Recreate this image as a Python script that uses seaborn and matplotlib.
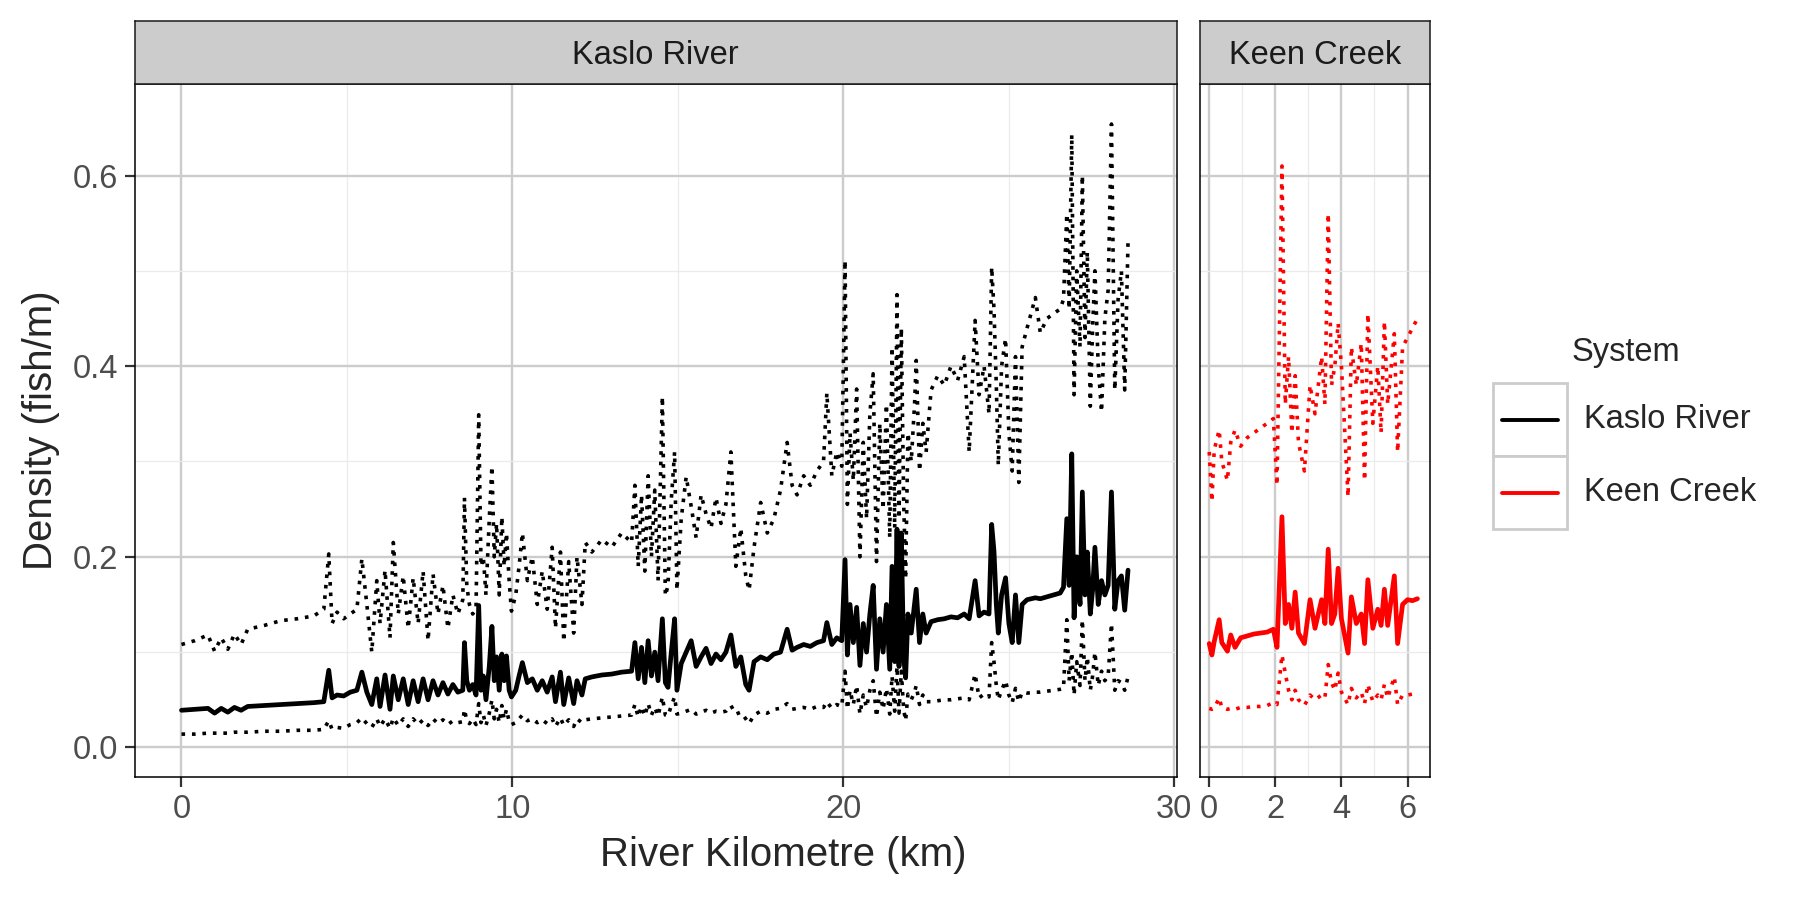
import numpy as np
import pandas as pd
import matplotlib
matplotlib.use("Agg")
import matplotlib.pyplot as plt
import seaborn as sns
from matplotlib.patches import Rectangle
from matplotlib.lines import Line2D
from matplotlib.ticker import MultipleLocator

sns.set_theme(style="whitegrid")
plt.rcParams['font.family'] = ['Liberation Sans', 'DejaVu Sans']

# ---- Kaslo River: river km, estimate, lower and upper bound (fish/m) ----
kaslo_km = [
    0.0, 0.4, 0.8, 1.0, 1.2, 1.4, 1.6, 1.8, 2.0, 2.5, 3.0, 3.5, 4.0, 4.3,
    4.45, 4.55, 4.7, 4.9, 5.1, 5.3, 5.45, 5.6, 5.75, 5.9, 6.0, 6.15, 6.3, 6.4,
    6.55, 6.7, 6.85, 7.0, 7.15, 7.3, 7.45, 7.6, 7.75, 7.9, 8.05, 8.2, 8.35, 8.5,
    8.55, 8.62, 8.7, 8.8, 8.9, 8.98, 9.05, 9.12, 9.2, 9.3, 9.38, 9.45, 9.52,
    9.6, 9.68, 9.75, 9.82, 9.9, 9.97,
    10.1, 10.2, 10.3, 10.45, 10.6, 10.75, 10.9, 11.05, 11.2, 11.3, 11.45, 11.55,
    11.7, 11.85, 11.95, 12.1, 12.2,
    12.4, 12.7, 13.0, 13.3, 13.6,
    13.7, 13.8, 13.9, 14.0, 14.1, 14.2, 14.3, 14.4, 14.53, 14.62, 14.7, 14.8, 14.9, 14.97,
    15.1, 15.25, 15.4, 15.55, 15.7, 15.85, 16.0, 16.15, 16.3, 16.45, 16.6, 16.75,
    16.9, 17.05, 17.15,
    17.3, 17.5, 17.7, 17.9, 18.1, 18.3, 18.45, 18.6, 18.8, 19.0, 19.2, 19.4, 19.5,
    19.65, 19.8, 19.95,
    20.05, 20.12, 20.2, 20.3, 20.4, 20.5, 20.6, 20.7, 20.8, 20.9, 21.0, 21.1, 21.2,
    21.3, 21.4, 21.47, 21.55, 21.62, 21.68, 21.75, 21.82, 21.88, 21.95, 22.05,
    22.15, 22.2, 22.3, 22.4, 22.5,
    22.65, 22.85, 23.05, 23.25, 23.45, 23.65, 23.8, 23.98, 24.1, 24.25, 24.4,
    24.48, 24.55, 24.62, 24.68, 24.78, 24.9, 25.0, 25.1, 25.2, 25.3, 25.4,
    25.55, 25.8, 25.95, 26.15, 26.35, 26.55,
    26.65, 26.75, 26.82, 26.9, 26.97, 27.05, 27.15, 27.22, 27.3, 27.37, 27.46,
    27.53, 27.6, 27.7, 27.8, 27.9, 28.0, 28.1, 28.2, 28.3, 28.4, 28.5, 28.6,
]
kaslo_est = [
    0.039, 0.040, 0.041, 0.036, 0.041, 0.037, 0.042, 0.039, 0.043, 0.044, 0.045, 0.046, 0.047, 0.048,
    0.081, 0.052, 0.055, 0.054, 0.058, 0.060, 0.079, 0.058, 0.045, 0.072, 0.043, 0.076, 0.040, 0.075,
    0.050, 0.072, 0.045, 0.070, 0.048, 0.072, 0.050, 0.070, 0.055, 0.068, 0.056, 0.066, 0.058, 0.060,
    0.110, 0.070, 0.060, 0.066, 0.055, 0.149, 0.060, 0.075, 0.050, 0.085, 0.127, 0.070, 0.095,
    0.060, 0.098, 0.070, 0.096, 0.060, 0.053,
    0.060, 0.075, 0.089, 0.068, 0.072, 0.060, 0.070, 0.058, 0.074, 0.048, 0.079, 0.045,
    0.073, 0.046, 0.070, 0.055, 0.072,
    0.074, 0.076, 0.077, 0.079, 0.080,
    0.110, 0.072, 0.105, 0.068, 0.112, 0.075, 0.100, 0.070, 0.135, 0.068, 0.063, 0.100, 0.135, 0.060,
    0.088, 0.100, 0.112, 0.085, 0.095, 0.104, 0.088, 0.098, 0.092, 0.100, 0.118, 0.085,
    0.095, 0.066, 0.060,
    0.090, 0.095, 0.092, 0.098, 0.100, 0.124, 0.102, 0.105, 0.108, 0.106, 0.110, 0.112, 0.131,
    0.108, 0.115, 0.112,
    0.197, 0.097, 0.150, 0.110, 0.147, 0.086, 0.130, 0.100, 0.140, 0.170, 0.082, 0.135, 0.100,
    0.150, 0.082, 0.190, 0.090, 0.229, 0.085, 0.225, 0.095, 0.073, 0.140, 0.120,
    0.150, 0.166, 0.110, 0.140, 0.120,
    0.132, 0.134, 0.135, 0.137, 0.136, 0.140, 0.135, 0.175, 0.138, 0.142, 0.140,
    0.234, 0.206, 0.150, 0.120, 0.160, 0.178, 0.130, 0.110, 0.160, 0.110, 0.150,
    0.155, 0.157, 0.156, 0.158, 0.160, 0.162,
    0.168, 0.240, 0.170, 0.308, 0.136, 0.200, 0.150, 0.268, 0.160, 0.205, 0.140,
    0.165, 0.210, 0.150, 0.175, 0.160, 0.170, 0.268, 0.145, 0.175, 0.180, 0.144, 0.186,
]
kaslo_lwr = [
    0.014, 0.014, 0.015, 0.015, 0.015, 0.015, 0.016, 0.016, 0.016, 0.017, 0.017, 0.018, 0.018, 0.019,
    0.028, 0.019, 0.021, 0.020, 0.024, 0.026, 0.031, 0.025, 0.021, 0.030, 0.022, 0.030, 0.020, 0.031,
    0.023, 0.030, 0.022, 0.030, 0.024, 0.029, 0.023, 0.030, 0.025, 0.029, 0.024, 0.028, 0.026, 0.027,
    0.040, 0.028, 0.025, 0.030, 0.024, 0.046, 0.026, 0.034, 0.023, 0.036, 0.050, 0.030, 0.040,
    0.026, 0.044, 0.030, 0.040, 0.027, 0.024,
    0.026, 0.030, 0.034, 0.028, 0.030, 0.026, 0.029, 0.025, 0.030, 0.022, 0.031, 0.023,
    0.029, 0.022, 0.030, 0.026, 0.029,
    0.030, 0.031, 0.032, 0.033, 0.034,
    0.045, 0.032, 0.043, 0.033, 0.046, 0.034, 0.042, 0.033, 0.053, 0.034, 0.033, 0.044, 0.053, 0.035,
    0.036, 0.038, 0.040, 0.035, 0.037, 0.039, 0.036, 0.038, 0.037, 0.038, 0.044, 0.035,
    0.037, 0.030, 0.025,
    0.034, 0.038, 0.036, 0.040, 0.041, 0.046, 0.040, 0.041, 0.042, 0.040, 0.043, 0.042, 0.048,
    0.041, 0.045, 0.043,
    0.080, 0.040, 0.060, 0.045, 0.065, 0.035, 0.055, 0.042, 0.060, 0.070, 0.032, 0.058, 0.040,
    0.062, 0.035, 0.075, 0.038, 0.085, 0.036, 0.080, 0.040, 0.028, 0.056, 0.050,
    0.058, 0.065, 0.045, 0.055, 0.048,
    0.048, 0.049, 0.050, 0.050, 0.051, 0.052, 0.050, 0.077, 0.052, 0.056, 0.053,
    0.110, 0.090, 0.065, 0.050, 0.060, 0.070, 0.055, 0.047, 0.062, 0.048, 0.058,
    0.057, 0.058, 0.058, 0.059, 0.060, 0.061,
    0.062, 0.134, 0.070, 0.100, 0.055, 0.090, 0.065, 0.134, 0.070, 0.095, 0.060,
    0.075, 0.100, 0.065, 0.080, 0.070, 0.075, 0.130, 0.060, 0.070, 0.068, 0.060, 0.074,
]
kaslo_upr = [
    0.108, 0.112, 0.118, 0.101, 0.115, 0.103, 0.119, 0.108, 0.124, 0.128, 0.133, 0.135, 0.138, 0.145,
    0.203, 0.130, 0.142, 0.135, 0.140, 0.145, 0.198, 0.150, 0.100, 0.175, 0.130, 0.186, 0.115, 0.215,
    0.140, 0.180, 0.125, 0.178, 0.130, 0.185, 0.112, 0.182, 0.140, 0.170, 0.125, 0.160, 0.140, 0.155,
    0.262, 0.170, 0.150, 0.140, 0.145, 0.349, 0.190, 0.200, 0.160, 0.240, 0.295, 0.200, 0.235,
    0.160, 0.242, 0.190, 0.225, 0.175, 0.143,
    0.160, 0.190, 0.225, 0.175, 0.200, 0.150, 0.185, 0.145, 0.210, 0.125, 0.205, 0.111,
    0.195, 0.120, 0.200, 0.150, 0.215,
    0.205, 0.218, 0.210, 0.225, 0.215,
    0.275, 0.190, 0.265, 0.185, 0.285, 0.200, 0.270, 0.175, 0.368, 0.159, 0.170, 0.260, 0.310, 0.165,
    0.240, 0.284, 0.253, 0.220, 0.265, 0.245, 0.230, 0.262, 0.235, 0.255, 0.310, 0.190,
    0.230, 0.180, 0.165,
    0.210, 0.257, 0.225, 0.240, 0.270, 0.320, 0.275, 0.265, 0.285, 0.275, 0.290, 0.300, 0.372,
    0.285, 0.310, 0.295,
    0.511, 0.255, 0.330, 0.280, 0.376, 0.200, 0.320, 0.240, 0.350, 0.392, 0.195, 0.340, 0.250,
    0.360, 0.220, 0.420, 0.230, 0.475, 0.240, 0.440, 0.260, 0.177, 0.330, 0.300,
    0.360, 0.406, 0.290, 0.340, 0.310,
    0.375, 0.390, 0.380, 0.400, 0.385, 0.410, 0.310, 0.448, 0.370, 0.400, 0.350,
    0.504, 0.460, 0.380, 0.296, 0.400, 0.429, 0.330, 0.290, 0.410, 0.278, 0.420,
    0.440, 0.472, 0.435, 0.450, 0.455, 0.460,
    0.470, 0.560, 0.460, 0.643, 0.370, 0.500, 0.420, 0.600, 0.430, 0.520, 0.358,
    0.440, 0.500, 0.400, 0.352, 0.450, 0.480, 0.654, 0.375, 0.470, 0.500, 0.375, 0.530,
]

# ---- Keen Creek ----
keen_km = [
    0.0, 0.08, 0.15, 0.3, 0.38, 0.55, 0.65, 0.78, 0.95, 1.15, 1.35, 1.55, 1.75, 1.94,
    2.05, 2.2, 2.3, 2.4, 2.5, 2.6, 2.7, 2.88, 3.05, 3.2, 3.4, 3.5, 3.6, 3.7, 3.8, 3.9,
    4.0, 4.2, 4.3, 4.45, 4.6, 4.7, 4.8, 4.95, 5.1, 5.2, 5.3, 5.4, 5.6, 5.7, 5.85,
    6.0, 6.15, 6.3,
]
keen_est = [
    0.109, 0.097, 0.111, 0.134, 0.110, 0.101, 0.118, 0.105, 0.115, 0.117, 0.119, 0.120, 0.121, 0.124,
    0.105, 0.242, 0.130, 0.150, 0.125, 0.163, 0.120, 0.109, 0.155, 0.125, 0.155, 0.130, 0.208, 0.130,
    0.140, 0.188, 0.135, 0.099, 0.158, 0.130, 0.140, 0.109, 0.176, 0.125, 0.145, 0.128, 0.166, 0.128,
    0.180, 0.109, 0.150, 0.155, 0.154, 0.156,
]
keen_lwr = [
    0.041, 0.040, 0.041, 0.052, 0.042, 0.040, 0.041, 0.040, 0.042, 0.042, 0.043, 0.043, 0.044, 0.047,
    0.045, 0.097, 0.078, 0.060, 0.050, 0.060, 0.050, 0.044, 0.055, 0.050, 0.055, 0.052, 0.087, 0.068,
    0.060, 0.078, 0.058, 0.045, 0.062, 0.052, 0.058, 0.046, 0.066, 0.048, 0.055, 0.050, 0.066, 0.052,
    0.074, 0.045, 0.055, 0.055, 0.056, 0.057,
]
keen_upr = [
    0.310, 0.258, 0.312, 0.333, 0.300, 0.280, 0.320, 0.333, 0.316, 0.325, 0.330, 0.335, 0.340, 0.345,
    0.275, 0.610, 0.360, 0.410, 0.330, 0.390, 0.320, 0.290, 0.380, 0.350, 0.410, 0.360, 0.560, 0.380,
    0.400, 0.445, 0.400, 0.263, 0.420, 0.380, 0.424, 0.280, 0.455, 0.340, 0.400, 0.330, 0.447, 0.360,
    0.434, 0.310, 0.420, 0.430, 0.440, 0.450,
]

systems = ["Kaslo River", "Keen Creek"]
system_colors = {"Kaslo River": "black", "Keen Creek": "red"}

kaslo = pd.DataFrame({"km": kaslo_km, "est": kaslo_est, "lwr": kaslo_lwr, "upr": kaslo_upr})
keen = pd.DataFrame({"km": keen_km, "est": keen_est, "lwr": keen_lwr, "upr": keen_upr})

TXT = 23.5    # tick, strip and legend text
TITLE = 29    # axis titles

# figure layout (facet panels with widths proportional to the x range)
W, H = 1800, 900
fig = plt.figure(figsize=(18, 9), dpi=100)
panel_top, panel_bot = 84, 777
ax_k = fig.add_axes([134.5 / W, 1 - panel_bot / H, (1177 - 134.5) / W, (panel_bot - panel_top) / H])
ax_c = fig.add_axes([1200 / W, 1 - panel_bot / H, 230 / W, (panel_bot - panel_top) / H], sharey=ax_k)

dotted = (0, (1, 1.9))


def draw_panel(ax, df, color):
    sns.lineplot(data=df, x="km", y="lwr", ax=ax, color=color, lw=2.6, linestyle=dotted,
                 estimator=None, sort=False, legend=False, dash_capstyle="butt")
    sns.lineplot(data=df, x="km", y="upr", ax=ax, color=color, lw=2.6, linestyle=dotted,
                 estimator=None, sort=False, legend=False, dash_capstyle="butt")
    sns.lineplot(data=df, x="km", y="est", ax=ax, color=color, lw=3.4,
                 estimator=None, sort=False, legend=False, solid_joinstyle="round")
    ax.set_xlabel("")
    ax.set_ylabel("")
    ax.set_facecolor("white")
    ax.set_axisbelow(True)
    ax.grid(which="major", color="#cccccc", lw=1.7)
    ax.grid(which="minor", color="#ebebeb", lw=0.9)
    ax.yaxis.set_major_locator(MultipleLocator(0.2))
    ax.yaxis.set_minor_locator(MultipleLocator(0.1))
    ax.tick_params(which="major", bottom=True, left=True, length=7, width=1.6,
                   color="#333333", labelsize=TXT, labelcolor="#4d4d4d", pad=5)
    ax.tick_params(which="minor", length=0)
    for s in ax.spines.values():
        s.set_color("black")
        s.set_linewidth(1.1)


draw_panel(ax_k, kaslo, system_colors["Kaslo River"])
draw_panel(ax_c, keen, system_colors["Keen Creek"])

ax_k.set_xlim(-1.42, 30.08)
ax_k.xaxis.set_major_locator(MultipleLocator(10))
ax_k.xaxis.set_minor_locator(MultipleLocator(5))
ax_k.set_ylim(-0.031, 0.696)
ax_k.set_yticks([0.0, 0.2, 0.4, 0.6])
ax_k.set_yticklabels(["0.0", "0.2", "0.4", "0.6"])

ax_c.set_xlim(-0.28, 6.68)
ax_c.xaxis.set_major_locator(MultipleLocator(2))
ax_c.xaxis.set_minor_locator(MultipleLocator(1))
ax_c.tick_params(axis="y", left=False, labelleft=False)

# facet strips
for ax, name in [(ax_k, systems[0]), (ax_c, systems[1])]:
    pos = ax.get_position()
    strip = fig.add_axes([pos.x0, 1 - panel_top / H, pos.width, 63 / H])
    strip.set_facecolor("#cccccc")
    strip.set_xticks([])
    strip.set_yticks([])
    strip.grid(False)
    for s in strip.spines.values():
        s.set_color("#1a1a1a")
        s.set_linewidth(1.1)
    strip.text(0.5, 0.46, name, ha="center", va="center", fontsize=TXT, color="#1a1a1a",
               transform=strip.transAxes)

# axis titles
fig.text(783 / W, 1 - 855 / H, "River Kilometre (km)", ha="center", va="center", fontsize=TITLE)
fig.text(41 / W, 1 - 430 / H, "Density (fish/m)", ha="center", va="center", rotation=90,
         fontsize=TITLE)

# legend drawn by hand to mimic the ggplot key boxes
fig.text(1572 / W, 1 - 353 / H, "System", ha="left", va="center", fontsize=TXT)
for i, name in enumerate(systems):
    y0 = 383 + i * 73
    fig.add_artist(Rectangle((1493 / W, 1 - (y0 + 73) / H), 74 / W, 73 / H,
                             transform=fig.transFigure, facecolor="white",
                             edgecolor="#cccccc", lw=2.0))
    yc = 1 - (y0 + 36.5) / H
    fig.add_artist(Line2D([1502 / W, 1558 / W], [yc, yc], transform=fig.transFigure,
                          color=system_colors[name], lw=2.8))
    fig.text(1584 / W, yc, name, ha="left", va="center", fontsize=TXT)

fig.savefig("out.png", dpi=100, facecolor="white")
